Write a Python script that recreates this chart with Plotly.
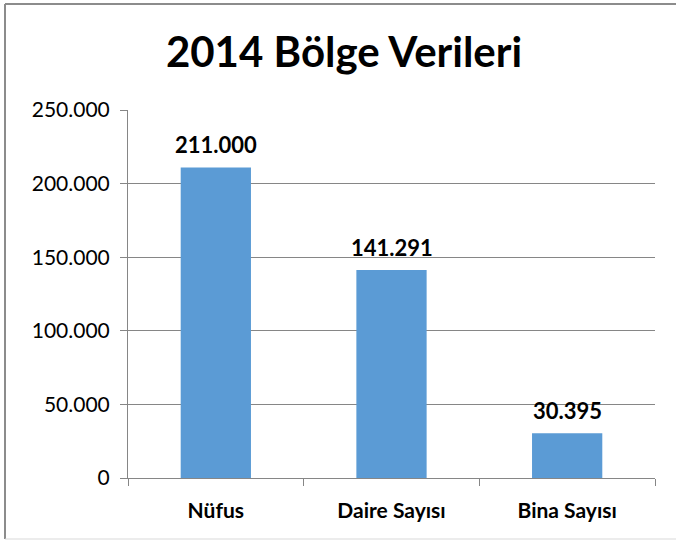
import plotly.graph_objects as go

categories = ["Nüfus", "Daire Sayısı", "Bina Sayısı"]
values = [211000, 141291, 30395]
tick_vals = [0, 50000, 100000, 150000, 200000, 250000]
tick_text = ["0", "50.000", "100.000", "150.000", "200.000", "250.000"]
title_text = "2014 Bölge Verileri"

FONT = "Lato"

def fmt(v):
    return f"{v:,}".replace(",", ".")

fig = go.Figure()
fig.add_trace(go.Bar(
    x=categories, y=values,
    marker=dict(color="#5B9BD5", line=dict(width=0)),
    width=0.4,
    hoverinfo="skip",
))

for c, v in zip(categories, values):
    fig.add_annotation(x=c, y=v, text=f"<b>{fmt(v)}</b>", showarrow=False,
                       yanchor="bottom", yshift=7,
                       font=dict(family=FONT, size=22, color="#000000"))

fig.update_layout(
    width=676, height=541,
    margin=dict(l=128, r=21, t=110, b=63),
    paper_bgcolor="white", plot_bgcolor="white",
    showlegend=False,
    title=dict(text=f"<b>{title_text}</b>", x=344 / 676, xanchor="center",
               y=1 - 52 / 541, yanchor="middle",
               font=dict(family=FONT, size=42, color="#000000")),
    font=dict(family=FONT, color="#000000"),
    bargap=0.6,
)

fig.update_xaxes(
    type="category",
    showline=True, linecolor="#868686", linewidth=1,
    ticks="outside", tickson="boundaries", ticklen=7, tickcolor="#868686",
    showgrid=False,
    tickfont=dict(family=FONT, size=21, color="#000000"),
    tickvals=categories, ticktext=[f"<b>{c}</b>" for c in categories],
    ticklabelstandoff=14,
)
fig.update_yaxes(
    range=[0, 250000],
    tickvals=tick_vals, ticktext=tick_text,
    showgrid=True, gridcolor="#868686", gridwidth=1,
    showline=True, linecolor="#868686", linewidth=1,
    ticks="outside", ticklen=7, tickcolor="#868686",
    tickfont=dict(family=FONT, size=21, color="#000000"),
    zeroline=False,
    ticklabelstandoff=6,
)

# chart frame
fig.add_shape(type="line", xref="paper", yref="paper",
              x0=-(128 - 5) / 527, x1=(676 - 128) / 527,
              y0=1 + (110 - 4) / 368, y1=1 + (110 - 4) / 368,
              line=dict(color="#8c8c8c", width=2))
fig.add_shape(type="line", xref="paper", yref="paper",
              x0=-(128 - 5) / 527, x1=-(128 - 5) / 527,
              y0=1 + (110 - 4) / 368, y1=-(539 - 478) / 368,
              line=dict(color="#8c8c8c", width=2))
fig.add_shape(type="line", xref="paper", yref="paper",
              x0=-(128 - 5) / 527, x1=(676 - 128) / 527,
              y0=-(539 - 478) / 368, y1=-(539 - 478) / 368,
              line=dict(color="#d9d9d9", width=1))

fig.write_html("out.html",
               config={"displayModeBar": False},
               post_script="document.body.style.margin='0';document.body.style.overflow='hidden';")
